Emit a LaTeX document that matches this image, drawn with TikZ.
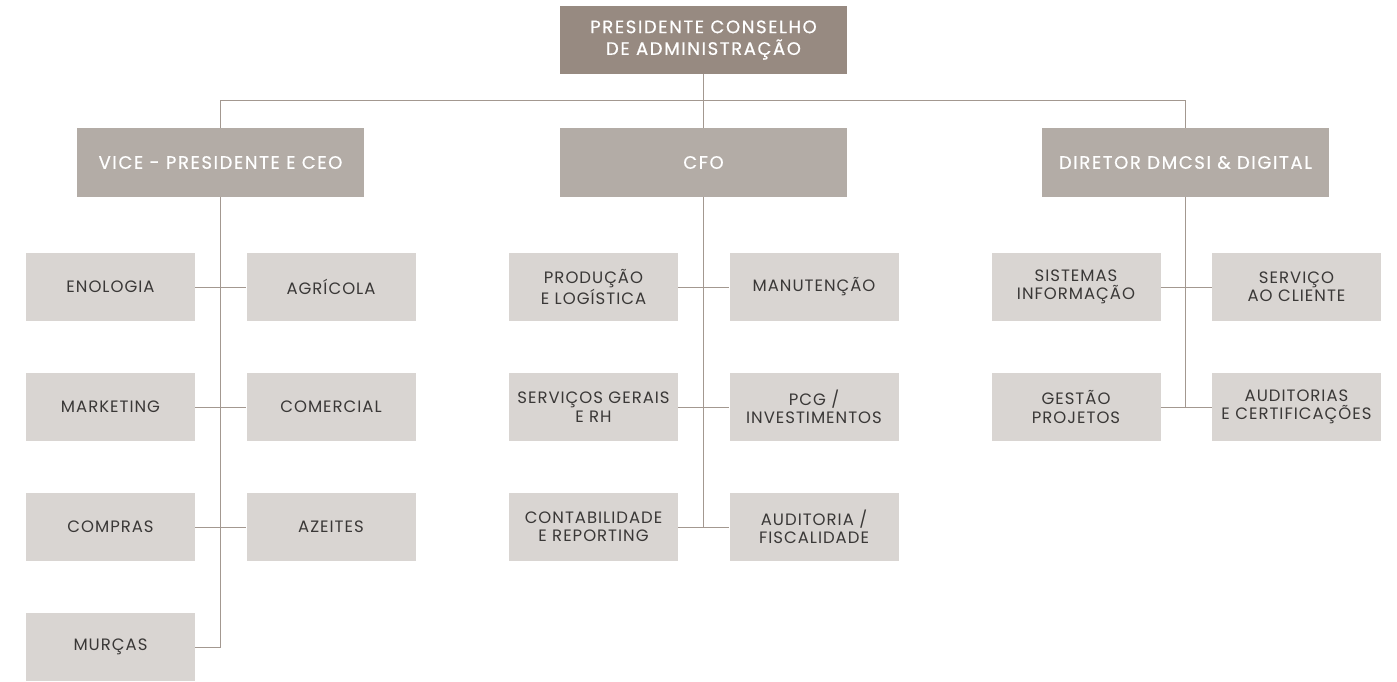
\documentclass[tikz,border=0pt]{standalone}
\usepackage{fontspec}
\setmainfont{Poppins}
\newfontfamily\headfont[LetterSpace=9,FakeBold=0.6]{Poppins}
\newfontfamily\unitfont[LetterSpace=6]{Poppins}
\usepackage{tikz}
\usetikzlibrary{calc}
\usetikzlibrary{positioning}
\definecolor{topgray}{HTML}{978A81}
\definecolor{midgray}{HTML}{B3ACA6}
\definecolor{lowgray}{HTML}{D9D5D2}
\definecolor{linkgray}{HTML}{A39890}
\definecolor{txtgray}{HTML}{3A3837}

\begin{document}
\begin{tikzpicture}[x=1pt, y=-1pt]
 \tikzstyle{topnode}=[rectangle, fill=topgray, text=white, minimum width=287pt, minimum height=68pt, inner sep=0pt, align=center, font=\headfont\fontsize{18}{21.7}\selectfont]
 \tikzstyle{headnode}=[rectangle, fill=midgray, text=white, minimum width=287pt, minimum height=68pt, inner sep=0pt, align=center, font=\headfont\fontsize{18}{21.7}\selectfont]
 \tikzstyle{unode}=[rectangle, fill=lowgray, text=txtgray, minimum width=169pt, minimum height=68pt, inner sep=0pt, align=center, font=\unitfont\fontsize{16.5}{18.4}\selectfont]
 \tikzstyle{link} = [draw, linkgray, line width=1pt]

 \useasboundingbox (0,0) rectangle (1397,682);

 \draw (703.5, 40) node[topnode] (pres) {PRESIDENTE CONSELHO\\DE ADMINISTRAÇÃO};
 \coordinate (bar) at (703.5, 100.5);

 \draw (220.5, 162.5) node[headnode] (vp) {VICE - PRESIDENTE E CEO};
 \draw (703.5, 162.5) node[headnode] (cfo) {CFO};
 \draw (1185.5, 162.5) node[headnode] (dir) {DIRETOR DMCSI \& DIGITAL};

 % vice-presidente
 \draw (110.5, 287) node[unode] (enol) {ENOLOGIA};
 \draw (331, 287) node[unode] (agri) {AGRÍCOLA};
 \draw (110.5, 407) node[unode] (mkt) {MARKETING};
 \draw (331, 407) node[unode] (com) {COMERCIAL};
 \draw (110.5, 527) node[unode] (compras) {COMPRAS};
 \draw (331, 527) node[unode] (azeites) {AZEITES};
 \draw (110.5, 647) node[unode] (murcas) {MURÇAS};

 % cfo
 \draw (593.5, 287) node[unode] (prod) {PRODUÇÃO\\E LOGÍSTICA};
 \draw (814, 287) node[unode] (manut) {MANUTENÇÃO};
 \draw (593.5, 407) node[unode] (servg) {SERVIÇOS GERAIS\\E RH};
 \draw (814, 407) node[unode] (pcg) {PCG /\\INVESTIMENTOS};
 \draw (593.5, 527) node[unode] (contab) {CONTABILIDADE\\E REPORTING};
 \draw (814, 527) node[unode] (fisc) {AUDITORIA /\\FISCALIDADE};

 % diretor
 \draw (1076, 287) node[unode] (sist) {SISTEMAS\\INFORMAÇÃO};
 \draw (1296.5, 287) node[unode] (servc) {SERVIÇO\\AO CLIENTE};
 \draw (1076, 407) node[unode] (gest) {GESTÃO\\PROJETOS};
 \draw (1296.5, 407) node[unode] (audit) {AUDITORIAS\\E CERTIFICAÇÕES};

 \path [link] (pres.south) -- (cfo.north);
 \path [link] (vp.north) |- (bar) -| (dir.north);

 \path [link] (vp.south) |- (murcas.east);
 \path [link] (enol.east) -- (agri.west);
 \path [link] (mkt.east) -- (com.west);
 \path [link] (compras.east) -- (azeites.west);

 \path [link] (cfo.south) -- (cfo.south |- contab.east);
 \path [link] (prod.east) -- (manut.west);
 \path [link] (servg.east) -- (pcg.west);
 \path [link] (contab.east) -- (fisc.west);

 \path [link] (dir.south) -- (dir.south |- gest.east);
 \path [link] (sist.east) -- (servc.west);
 \path [link] (gest.east) -- (audit.west);
\end{tikzpicture}
\end{document}
